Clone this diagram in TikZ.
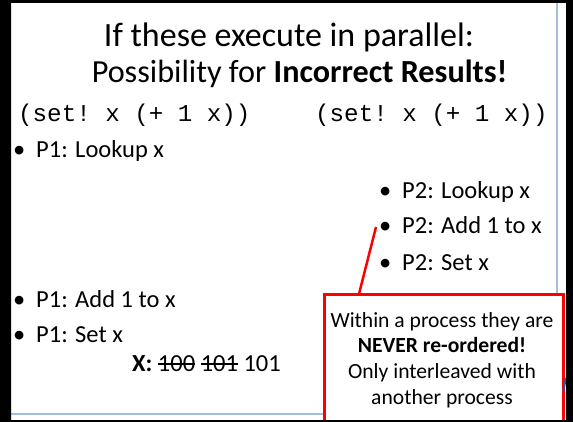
\documentclass[tikz,border=0pt]{standalone}
\usepackage{fontspec}
\setmainfont{Carlito}
\setmonofont{Liberation Mono}
\usetikzlibrary{calc}
\definecolor{slideblue}{HTML}{A4BEDD}
\definecolor{markblue}{HTML}{3050A0}
\tikzset{
  title/.style={font=\fontsize{34}{40}\selectfont, inner sep=0, anchor=base},
  code/.style={font=\ttfamily\fontsize{24.2}{28}\selectfont, inner sep=0, anchor=base west},
  item/.style={font=\fontsize{24.5}{29}\selectfont, inner sep=0, anchor=base west},
  boxtext/.style={font=\fontsize{21.6}{26}\selectfont, inner sep=0, anchor=base},
  callout/.style={draw=red, line width=2.5pt, fill=white, inner sep=0, anchor=north west},
}
\newcommand{\bul}[1]{\makebox[#1][l]{\textbullet}}
\newsavebox{\strkbox}
\newcommand{\strk}[1]{\sbox{\strkbox}{#1}\rlap{\rule[0.26em]{\wd\strkbox}{0.07em}}\usebox{\strkbox}}
\begin{document}
\begin{tikzpicture}[x=1pt,y=-1pt]
\useasboundingbox (0,0) rectangle (573,422);
\fill[white] (0,0) rectangle (573,422);
% slide guide lines
\draw[slideblue, line width=1.5pt] (557,0) -- (557,414);
\draw[slideblue, line width=2pt] (11,414) -- (557,414);
% title
\node[title] (t1) at (289,47) {If these execute in parallel:};
\node[title, font=\fontsize{32.2}{38}\selectfont] (t2) at (299.5,83) {Possibility for \textbf{Incorrect Results!}};
% code
\node[code] (c1) at (18,122) {(set! x (+ 1 x))};
\node[code] (c2) at (315,122) {(set! x (+ 1 x))};
% P1 items
\node[item] (p1a) at (13,158) {\bul{23pt}P1: Lookup x};
\node[item] (p1b) at (13,307) {\bul{23pt}P1: Add 1 to x};
\node[item] (p1c) at (13,342) {\bul{23pt}P1: Set x};
% P2 items
\node[item] (p2a) at (379,199) {\bul{23pt}P2: Lookup x};
\node[item] (p2b) at (379,234) {\bul{23pt}P2: Add 1 to x};
\node[item] (p2c) at (379,270) {\bul{23pt}P2: Set x};
% value of X
\node[item] (xv) at (132,371) {\textbf{X:} \strk{100} \strk{101} 101};
% callout box
\node[callout, minimum width=239pt, minimum height=140pt] (box) at (323,293) {};
\coordinate (tip) at (376,227);
\draw[red, line width=2.5pt] ($(box.north west)!0.15!(box.north east)$) -- (tip);
\node[boxtext] (b1) at (442,327) {Within a process they are};
\node[boxtext] (b2) at (442,352) {\textbf{NEVER re-ordered!}};
\node[boxtext] (b3) at (442,378) {Only interleaved with};
\node[boxtext] (b4) at (442,404) {another process};
% small blue mark at right edge
\draw[markblue, line width=2pt] (566,378) -- (563,392);
% outer black frame
\fill[black, even odd rule] (0,0) rectangle (573,422) (11,3) rectangle (566,420);
\end{tikzpicture}
\end{document}
